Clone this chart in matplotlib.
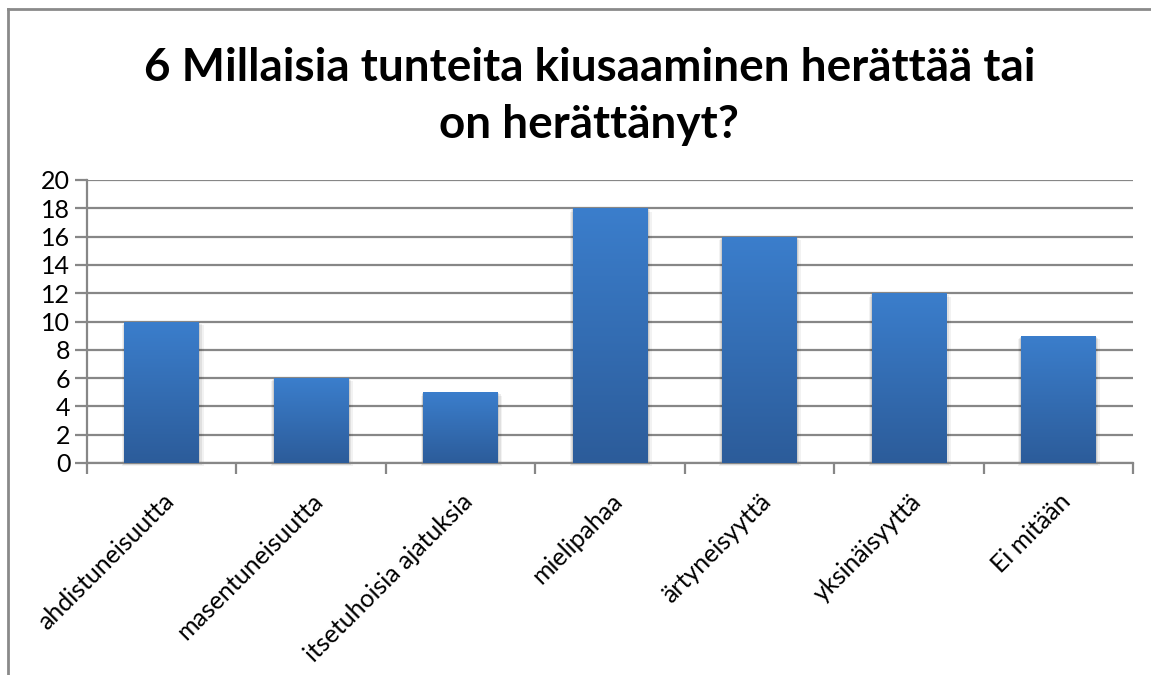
"""Excel-style column chart: feelings caused by bullying."""

import matplotlib
matplotlib.use("Agg")
import matplotlib.pyplot as plt
import numpy as np
from matplotlib.colors import LinearSegmentedColormap
from matplotlib.lines import Line2D
from matplotlib.patches import Rectangle

CATEGORIES = [
    "ahdistuneisuutta",
    "masentuneisuutta",
    "itsetuhoisia ajatuksia",
    "mielipahaa",
    "ärtyneisyyttä",
    "yksinäisyyttä",
    "Ei mitään",
]
VALUES = [10, 6, 5, 18, 16, 12, 9]
Y_TICKS = list(range(0, 21, 2))
TITLE_LINES = ["6 Millaisia tunteita kiusaaminen herättää tai", "on herättänyt?"]

GRID = "#878787"
TOP_BLUE = "#3b7ecc"
BOTTOM_BLUE = "#2c5c9a"

plt.rcParams["font.family"] = ["Lato", "DejaVu Sans"]

fig = plt.figure(figsize=(11.51, 6.75), dpi=100)
ax = fig.add_axes([87 / 1151, 212 / 675, 1046 / 1151, 283 / 675])

x = np.arange(len(CATEGORIES))
bars = ax.bar(x, VALUES, width=0.5, facecolor="none", edgecolor="none", zorder=3)

# vertical gradient fill, clipped to each bar, plus a faint soft shadow
cmap = LinearSegmentedColormap.from_list("excel_blue", [BOTTOM_BLUE, TOP_BLUE])
grad = np.linspace(0, 1, 256).reshape(-1, 1)
for bar in bars:
    x0, w, h = bar.get_x(), bar.get_width(), bar.get_height()
    for pad, a in ((0.03, 0.05), (0.018, 0.07), (0.008, 0.09)):
        ax.add_patch(Rectangle((x0 - pad * 0.6, -pad * 8), w + pad * 1.6, h,
                               facecolor="#000000", alpha=a, edgecolor="none",
                               zorder=2, clip_on=False))
    im = ax.imshow(grad, cmap=cmap, origin="lower", aspect="auto",
                   extent=(x0, x0 + w, 0, h), zorder=3)
    im.set_clip_path(bar)

ax.set_xlim(-0.5, len(CATEGORIES) - 0.5)
ax.set_ylim(0, 20)
ax.set_yticks(Y_TICKS)
ax.yaxis.grid(True, color=GRID, linewidth=1.6, zorder=1)
ax.set_axisbelow(True)

ax.set_xticks(np.arange(len(CATEGORIES) + 1) - 0.5)
ax.set_xticklabels([])
ax.set_xticks(x, minor=True)
ax.set_xticklabels(CATEGORIES, minor=True, rotation=45, ha="right",
                   rotation_mode="anchor", fontsize=18)
ax.tick_params(axis="x", which="minor", length=0, pad=19)
ax.tick_params(axis="x", which="major", length=8, width=1.6, color=GRID)
ax.tick_params(axis="y", length=9, width=1.6, color=GRID, labelsize=18, pad=3)

for side in ("top", "right"):
    ax.spines[side].set_visible(False)
for side in ("left", "bottom"):
    ax.spines[side].set_color(GRID)
    ax.spines[side].set_linewidth(1.6)

fig.text(0.512, 1 - 68 / 675, TITLE_LINES[0], ha="center", va="center",
         fontsize=33, fontweight="bold")
fig.text(0.512, 1 - 125 / 675, TITLE_LINES[1], ha="center", va="center",
         fontsize=33, fontweight="bold")

# chart frame (top and left edges visible in the crop)
fig.add_artist(Line2D([8 / 1151, 1], [1 - 9 / 675, 1 - 9 / 675],
                      color="#8a8a8a", linewidth=2, transform=fig.transFigure))
fig.add_artist(Line2D([8 / 1151, 8 / 1151], [0, 1 - 9 / 675],
                      color="#8a8a8a", linewidth=2, transform=fig.transFigure))

fig.savefig("out.png", dpi=100)
